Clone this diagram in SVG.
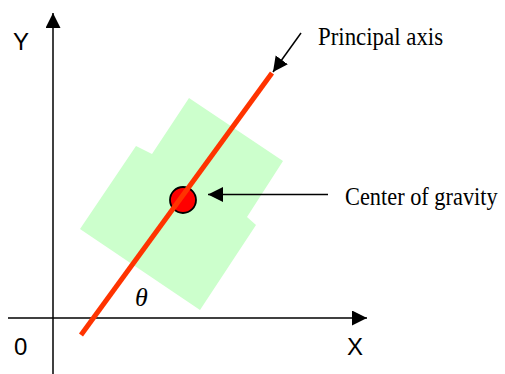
<svg xmlns="http://www.w3.org/2000/svg" width="505" height="374" viewBox="0 0 505 374">
<style>
.ax{stroke:#000;stroke-width:1.5;fill:none}
.sans{font-family:"Liberation Sans",Arial,sans-serif;font-size:24px;fill:#000}
.serif{font-family:"Liberation Serif","Times New Roman",serif;font-size:26px;fill:#000}
</style>
<defs>
<marker id="ah" markerUnits="userSpaceOnUse" markerWidth="16" markerHeight="16" refX="15" refY="7.5" orient="auto">
<path d="M0,0 L15,7.5 L0,15 z" fill="#000"/>
</marker>
</defs>
<rect width="505" height="374" fill="#fff"/>
<g id="body">
<polygon points="189,98 283,161 247,217 256,225 200,310 80,229 136,146 152,154" fill="#ccffcc"/>
</g>
<g id="center-of-gravity">
<circle cx="183" cy="200" r="13" fill="#ff0000" stroke="#000" stroke-width="1.8"/>
</g>
<g id="connectors">
<line class="ax" x1="53" y1="374" x2="53" y2="13" marker-end="url(#ah)"/>
<line class="ax" x1="8" y1="318" x2="367" y2="318" marker-end="url(#ah)"/>
<line class="ax" x1="301" y1="33" x2="273" y2="72" marker-end="url(#ah)"/>
<line class="ax" x1="328" y1="194.5" x2="208" y2="194.5" marker-end="url(#ah)"/>
</g>
<g id="principal-axis">
<line x1="81" y1="335" x2="272" y2="73" stroke="#ff3300" stroke-width="5"/>
</g>
<g id="labels">
<text class="sans" x="13" y="50">Y</text>
<text class="sans" x="14" y="355">0</text>
<text class="sans" x="347" y="355">X</text>
<text class="serif" transform="translate(318,45) scale(0.88,1)">Principal axis</text>
<text class="serif" transform="translate(345,205) scale(0.86,1)">Center of gravity</text>
<text x="135" y="306" font-family="'Liberation Serif','Times New Roman',serif" font-style="italic" font-size="26" fill="#000">θ</text>
</g>
</svg>
